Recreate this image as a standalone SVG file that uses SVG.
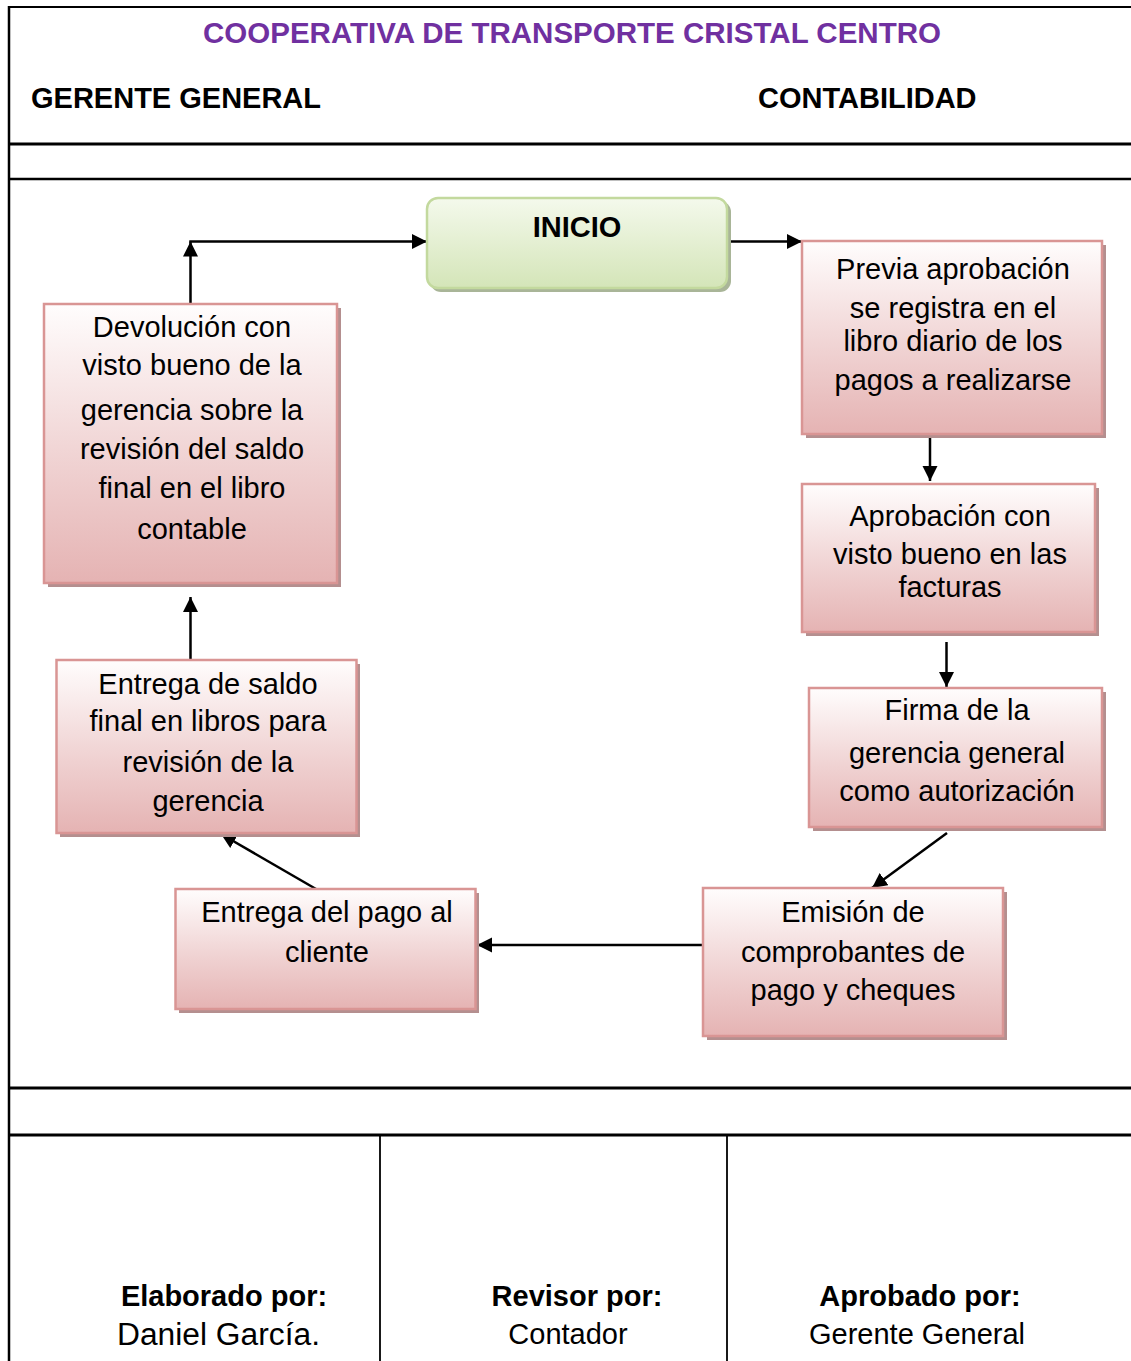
<svg xmlns="http://www.w3.org/2000/svg" width="1131" height="1361" viewBox="0 0 1131 1361">
<style>
.rule{stroke:#000;fill:none}
.t{font-family:"Liberation Sans",Arial,sans-serif;font-size:29px;fill:#000;text-anchor:middle}
.b{font-weight:bold}
.box{fill:url(#pink);stroke:#d99594;stroke-width:2.5}
.sh{fill:#b48f8f}
.conn{stroke:#000;stroke-width:2.5;fill:none;marker-end:url(#ah)}
</style>
<defs>
<linearGradient id="pink" x1="0" y1="0" x2="0" y2="1">
<stop offset="0" stop-color="#fffdfd"/>
<stop offset="0.55" stop-color="#f0d3d3"/>
<stop offset="1" stop-color="#e5b3b3"/>
</linearGradient>
<linearGradient id="green" x1="0" y1="0" x2="0" y2="1">
<stop offset="0" stop-color="#f4f9ec"/>
<stop offset="1" stop-color="#d4e5b8"/>
</linearGradient>
<marker id="ah" markerUnits="userSpaceOnUse" markerWidth="16" markerHeight="16" viewBox="0 0 16 16" refX="15" refY="7.5" orient="auto">
<path d="M0,0 L15,7.5 L0,15 z" fill="#000"/>
</marker>
</defs>

<g id="table">
<line class="rule" x1="8" y1="7" x2="1131" y2="7" stroke-width="2"/>
<line class="rule" x1="9" y1="6" x2="9" y2="1361" stroke-width="2.5"/>
<line class="rule" x1="8" y1="144" x2="1131" y2="144" stroke-width="3"/>
<line class="rule" x1="8" y1="179" x2="1131" y2="179" stroke-width="2.3"/>
<line class="rule" x1="8" y1="1088" x2="1131" y2="1088" stroke-width="3"/>
<line class="rule" x1="8" y1="1135" x2="1131" y2="1135" stroke-width="3"/>
<line class="rule" x1="380" y1="1135" x2="380" y2="1361" stroke-width="1.8"/>
<line class="rule" x1="727" y1="1135" x2="727" y2="1361" stroke-width="1.8"/>
</g>

<g id="header">
<text class="t b" x="572" y="43" style="fill:#7030a0" textLength="738" lengthAdjust="spacingAndGlyphs">COOPERATIVA DE TRANSPORTE CRISTAL CENTRO</text>
<text class="t b" x="31" y="108" style="text-anchor:start">GERENTE GENERAL</text>
<text class="t b" x="758" y="108" style="text-anchor:start">CONTABILIDAD</text>
</g>

<g id="connectors">
<line class="conn" x1="727" y1="241.5" x2="802" y2="241.5"/>
<line class="conn" x1="930" y1="434" x2="930" y2="481"/>
<line class="conn" x1="946.5" y1="642" x2="946.5" y2="687"/>
<line class="conn" x1="947" y1="833" x2="872" y2="888"/>
<line class="conn" x1="703" y1="945" x2="477" y2="945"/>
<line class="conn" x1="316" y1="889" x2="221" y2="834"/>
<line class="conn" x1="190.5" y1="660" x2="190.5" y2="597"/>
<line class="conn" x1="190.5" y1="304" x2="190.5" y2="241.5"/>
<line class="conn" x1="189.3" y1="241.5" x2="427" y2="241.5"/>
</g>

<g id="inicio">
<rect x="430" y="201" width="301" height="91" rx="11" fill="#a9b598"/>
<rect x="427" y="198" width="300" height="90" rx="11" fill="url(#green)" stroke="#c3d99e" stroke-width="2.5"/>
<text class="t b" x="577" y="237">INICIO</text>
</g>

<g id="n1">
<rect class="sh" x="806" y="245" width="300" height="193"/>
<rect class="box" x="802" y="241" width="300" height="193"/>
<text class="t" x="953" y="279">Previa aprobación</text>
<text class="t" x="953" y="318">se registra en el</text>
<text class="t" x="953" y="351">libro diario de los</text>
<text class="t" x="953" y="390">pagos a realizarse</text>
</g>

<g id="n2">
<rect class="sh" x="806" y="488" width="293" height="148"/>
<rect class="box" x="802" y="484" width="293" height="148"/>
<text class="t" x="950" y="526">Aprobación con</text>
<text class="t" x="950" y="564">visto bueno en las</text>
<text class="t" x="950" y="597">facturas</text>
</g>

<g id="n3">
<rect class="sh" x="813" y="692" width="293" height="139"/>
<rect class="box" x="809" y="688" width="293" height="139"/>
<text class="t" x="957" y="720">Firma de la</text>
<text class="t" x="957" y="763">gerencia general</text>
<text class="t" x="957" y="801">como autorización</text>
</g>

<g id="n4">
<rect class="sh" x="707" y="892" width="300" height="148"/>
<rect class="box" x="703" y="888" width="300" height="148"/>
<text class="t" x="853" y="922">Emisión de</text>
<text class="t" x="853" y="962">comprobantes de</text>
<text class="t" x="853" y="1000">pago y cheques</text>
</g>

<g id="n5">
<rect class="sh" x="179" y="893" width="300" height="120"/>
<rect class="box" x="175.5" y="889" width="300" height="120"/>
<text class="t" x="327" y="922">Entrega del pago al</text>
<text class="t" x="327" y="962">cliente</text>
</g>

<g id="n6">
<rect class="sh" x="60" y="664" width="300" height="173"/>
<rect class="box" x="56.5" y="660" width="300" height="173"/>
<text class="t" x="208" y="694">Entrega de saldo</text>
<text class="t" x="208" y="731">final en libros para</text>
<text class="t" x="208" y="772">revisión de la</text>
<text class="t" x="208" y="811">gerencia</text>
</g>

<g id="n7">
<rect class="sh" x="48" y="308" width="293" height="279"/>
<rect class="box" x="44" y="304" width="293" height="279"/>
<text class="t" x="192" y="337">Devolución con</text>
<text class="t" x="192" y="375">visto bueno de la</text>
<text class="t" x="192" y="420">gerencia sobre la</text>
<text class="t" x="192" y="459">revisión del saldo</text>
<text class="t" x="192" y="498">final en el libro</text>
<text class="t" x="192" y="539">contable</text>
</g>

<g id="footer">
<text class="t b" x="224" y="1306">Elaborado por:</text>
<text class="t" x="218.5" y="1345" style="font-size:31px" textLength="203" lengthAdjust="spacingAndGlyphs">Daniel García.</text>
<text class="t b" x="577" y="1306">Revisor por:</text>
<text class="t" x="568" y="1344">Contador</text>
<text class="t b" x="920" y="1306">Aprobado por:</text>
<text class="t" x="917" y="1344">Gerente General</text>
</g>
</svg>
